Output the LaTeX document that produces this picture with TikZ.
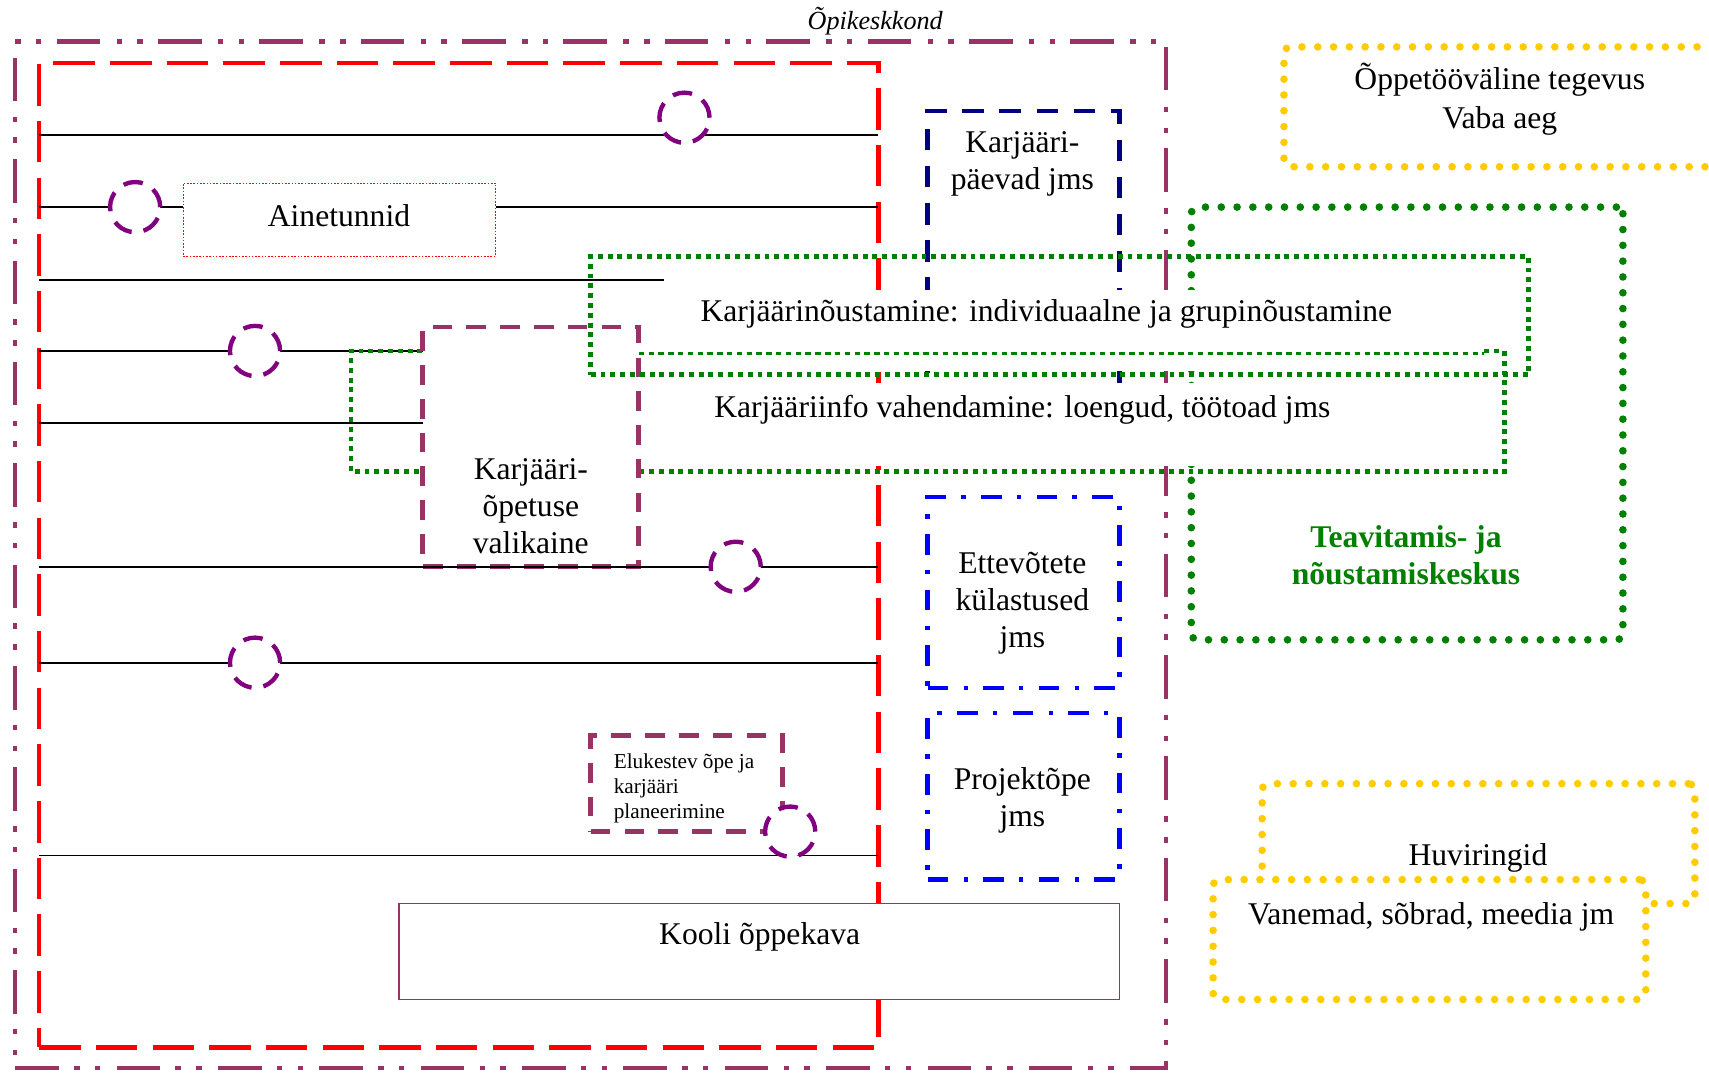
\documentclass[tikz,border=0pt]{standalone}
\usepackage{fontspec}
\setmainfont{Liberation Serif}
\definecolor{plum}{HTML}{993366}
\definecolor{ringpurple}{HTML}{800080}
\definecolor{navyb}{HTML}{000080}
\definecolor{gr}{HTML}{008000}
\definecolor{yel}{HTML}{FFCC00}
\tikzset{
  hline/.style={draw=black, line width=1.5pt},
  box/.style={rectangle, inner sep=0pt, outer sep=0pt},
  outerbox/.style={box, draw=plum, line width=4pt, dash pattern=on 40pt off 14pt on 5pt off 14pt on 5pt off 15pt},
  redbox/.style={box, draw=red, line width=4pt, dash pattern=on 38pt off 14pt},
  ring/.style={circle, draw=ringpurple, fill=white, line width=4pt, dash pattern=on 18pt off 11pt, minimum size=46pt, inner sep=0pt},
  ainbox/.style={box, draw=red, line width=1pt, dash pattern=on 1.5pt off 1.5pt},
  navybox/.style={box, draw=navyb, line width=4pt, dash pattern=on 20pt off 14pt},
  bluedd/.style={box, draw=blue, line width=4pt, dash pattern=on 19pt off 14pt on 4pt off 14pt},
  greensq/.style={draw=gr, line width=4.5pt, dash pattern=on 4.5pt off 4.5pt},
  greenthin/.style={draw=gr, line width=2.2pt, dash pattern=on 5pt off 4pt},
  greenround/.style={box, draw=gr, line width=7pt, line cap=round, dash pattern=on 0pt off 14.5pt, rounded corners=6pt},
  yellowround/.style={box, draw=yel, line width=7pt, line cap=round, dash pattern=on 0pt off 14.5pt, rounded corners=6pt},
  plumdash/.style={box, draw=plum, fill=white, line width=4.5pt, dash pattern=on 18pt off 13pt},
  plumsolid/.style={box, draw=plum, fill=white, line width=1.5pt},
  txt/.style={font=\fontsize{29}{34}\selectfont, align=center, inner sep=0pt},
  smalltxt/.style={font=\fontsize{19.5}{23}\selectfont, align=left, inner sep=0pt},
}
\begin{document}
\begin{tikzpicture}[x=1pt,y=-1pt]
\clip (0,0) rectangle (1568,983.6);
\fill[white] (0,0) rectangle (1568,983.6);

% outer frames
\node[outerbox, minimum width=1056pt, minimum height=942pt] (outer) at (542,509) {};
\node[redbox, minimum width=770pt, minimum height=903pt] (redb) at (421,509.5) {};
\node[font=\fontsize{24}{28}\selectfont\itshape, inner sep=0pt] (title) at (803,19) {Õpikeskkond};

% boxes
\node[ainbox, minimum width=287pt, minimum height=67pt] (ainet) at (311.5,201.5) {};
\node[txt] (ainettxt) at (311,198) {Ainetunnid};
\node[navybox, minimum width=176pt, minimum height=278pt] (paevad) at (939,241) {};
\node[txt] (paevadtxt) at (938,150) {Karjääri-\\päevad jms};
\node[bluedd, minimum width=176pt, minimum height=175pt] (ettev) at (939,543.5) {};
\node[txt] (ettevtxt) at (938,553.5) {Ettevõtete\\külastused\\jms};
\node[bluedd, minimum width=176pt, minimum height=153pt] (proj) at (939,730.5) {};
\node[txt] (projtxt) at (938,734) {Projektõpe\\jms};

% black lines
\coordinate (l1) at (36,124);  \coordinate (r1) at (806,124);
\coordinate (l2) at (36,190);  \coordinate (r2) at (806,190);
\coordinate (l3) at (36,257);  \coordinate (r3) at (609,257);
\coordinate (l4) at (36,322);  \coordinate (r4) at (388,322);
\coordinate (l5) at (36,388);  \coordinate (r5) at (388,388);
\coordinate (l6) at (36,520);  \coordinate (r6) at (806,520);
\coordinate (l7) at (36,608);  \coordinate (r7) at (806,608);
\coordinate (l8) at (36,785);  \coordinate (r8) at (806,785);
\draw[hline] (l1) -- (r1);
\draw[hline] (l2) -- (l2 -| ainet.west);
\draw[hline] (r2 -| ainet.east) -- (r2);
\draw[hline] (l3) -- (r3);
\draw[hline] (l4) -- (r4);
\draw[hline] (l5) -- (r5);
\draw[hline] (l7) -- (r7);
\draw[hline] (l8) -- (r8);

% Teavitamis- ja noustamiskeskus
\node[greenround, minimum width=396pt, minimum height=397pt] (teavit) at (1291,388.5) {};
\node[txt, font=\fontsize{29}{34}\selectfont\bfseries, text=gr] (teavittxt) at (1290,509) {Teavitamis- ja\\nõustamiskeskus};

% white text areas
\fill[white] (546,266) rectangle (1398,340);
\fill[white] (588,351) rectangle (1376,428);

% Karjaariinfo box
\node[box, minimum width=1058pt, minimum height=111pt] (info) at (851,377.5) {};
\coordinate (i1) at (1362,322); \coordinate (i2) at (1380,322);
\coordinate (i3) at (1380,433); \coordinate (i4) at (322,433);
\coordinate (i5) at (322,322); \coordinate (i6) at (388,322);
\coordinate (i7) at (586,324.5); \coordinate (i8) at (1362,324.5);
\draw[greensq] (i1) -- (i2) -- (i3) -- (i4) -- (i5) -- (i6);
\draw[greenthin] (i7) -- (i8);
\node[txt] (infotxt) at (938,376) {Karjääriinfo vahendamine: loengud, töötoad jms};

% valikaine
\node[plumdash, minimum width=198pt, minimum height=220pt] (valik) at (487,410) {};
\node[txt] (valiktxt) at (487,464.5) {Karjääri-\\õpetuse\\valikaine};
\draw[hline] (l6) -- (r6);

% Karjaarinoustamine box
\node[box, draw=gr, line width=4.5pt, dash pattern=on 4.5pt off 4.5pt, minimum width=860pt, minimum height=109pt] (noust) at (972,289.5) {};
\node[txt] (nousttxt) at (960,288) {Karjäärinõustamine: individuaalne ja grupinõustamine};

% Kooli oppekava
\node[plumsolid, minimum width=661pt, minimum height=88pt] (kooli) at (696.5,873) {};
\node[txt] (koolitxt) at (697,860) {Kooli õppekava};

% Elukestev
\node[plumdash, minimum width=176pt, minimum height=88pt] (eluk) at (630,719) {};
\node[smalltxt, anchor=west] (eluktxt) at (563,723) {Elukestev õpe ja\\karjääri\\planeerimine};

% rings
\node[ring] (c1) at (628,108) {};
\node[ring] (c2) at (124,190) {};
\node[ring] (c3) at (234,322) {};
\node[ring] (c4) at (675,520) {};
\node[ring] (c5) at (234,608) {};
\node[ring] (c6) at (725,763) {};

% right side yellow boxes
\node[yellowround, minimum width=472pt, minimum height=110pt] (oppe) at (1414,98) {};
\node[txt, font=\fontsize{29}{36}\selectfont] (oppetxt) at (1376,91) {Õppetööväline tegevus\\Vaba aeg};
\node[yellowround, minimum width=397pt, minimum height=110pt] (huvi) at (1356.5,774) {};
\node[txt] (huvitxt) at (1356,787) {Huviringid};
\node[yellowround, fill=white, minimum width=397pt, minimum height=110pt] (vanem) at (1311.5,862) {};
\node[txt] (vanemtxt) at (1313,841) {Vanemad, sõbrad, meedia jm};
\end{tikzpicture}
\end{document}
